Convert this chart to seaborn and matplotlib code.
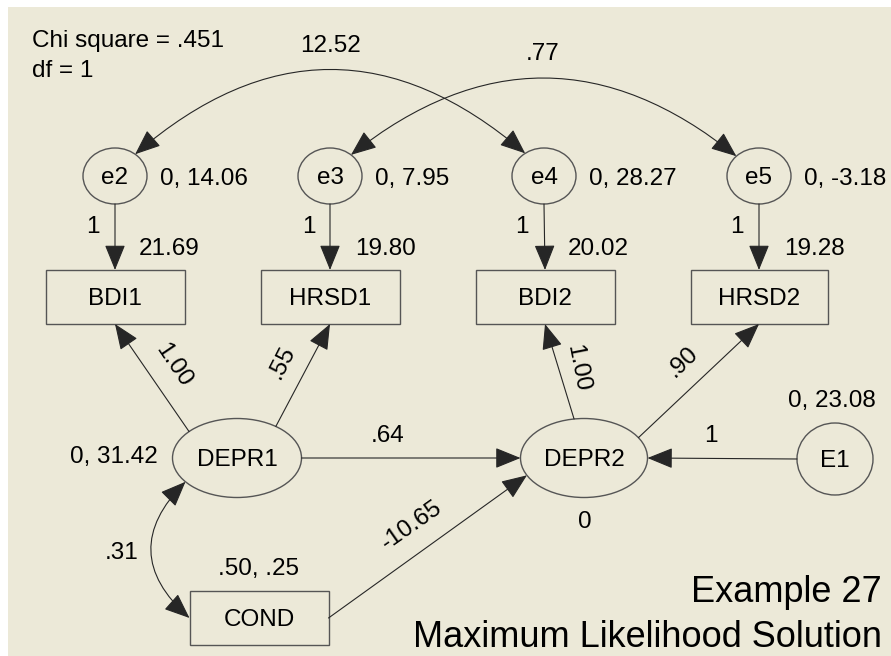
import numpy as np
import matplotlib
matplotlib.use("Agg")
import matplotlib.pyplot as plt
import seaborn as sns
from matplotlib.patches import Ellipse, Rectangle, FancyArrowPatch, ArrowStyle

# ==========================================
# MODEL ESTIMATES (EXAMPLE 27, ML SOLUTION)
# ==========================================

latent = ["e2", "e3", "e4", "e5", "DEPR1", "DEPR2", "E1"]
observed = ["BDI1", "HRSD1", "BDI2", "HRSD2", "COND"]

# regression paths
path_from = ["e2", "e3", "e4", "e5", "DEPR1", "DEPR1", "DEPR1", "DEPR2", "DEPR2", "E1", "COND"]
path_to = ["BDI1", "HRSD1", "BDI2", "HRSD2", "BDI1", "HRSD1", "DEPR2", "BDI2", "HRSD2", "DEPR2", "DEPR2"]
path_est = ["1", "1", "1", "1", "1.00", ".55", ".64", "1.00", ".90", "1", "-10.65"]

# covariances
cov_a = ["e2", "e3", "DEPR1"]
cov_b = ["e4", "e5", "COND"]
cov_est = ["12.52", ".77", ".31"]

# mean, variance of exogenous variables
mv_nodes = ["e2", "e3", "e4", "e5", "DEPR1", "E1", "COND"]
mv_est = ["0, 14.06", "0, 7.95", "0, 28.27", "0, -3.18", "0, 31.42", "0, 23.08", ".50, .25"]

# intercepts of endogenous variables
icpt_nodes = ["BDI1", "HRSD1", "BDI2", "HRSD2", "DEPR2"]
icpt_est = ["21.69", "19.80", "20.02", "19.28", "0"]

chi_square = ".451"
df_val = 1
title_lines = ["Example 27", "Maximum Likelihood Solution"]

# ==========================================
# LAYOUT (pixels: centre x, centre y, width, height)
# ==========================================

layout = {
    "e2": (115, 176, 64, 56),
    "e3": (330, 176, 64, 56),
    "e4": (544, 176, 64, 56),
    "e5": (759, 176, 64, 56),
    "BDI1": (115, 297, 139, 54),
    "HRSD1": (330, 297, 139, 54),
    "BDI2": (545, 297, 139, 54),
    "HRSD2": (759, 297, 137, 54),
    "DEPR1": (237, 458, 129, 79),
    "DEPR2": (584, 458, 127, 79),
    "E1": (835, 459, 76, 72),
    "COND": (259, 618, 139, 54),
}

# where each path leaves / enters its node (angle on the outline)
path_anchor = [(270, 90), (270, 90), (270, 90), (270, 90), (138, 270), (53, 270),
               (0, 180), (99, 270), (31, 270), (180, 0), (0, 206)]
# label placement: x, y, rotation, ha, va
path_lab = [(100, 233, 0, "right", "baseline"), (316, 233, 0, "right", "baseline"),
            (529, 233, 0, "right", "baseline"), (744, 233, 0, "right", "baseline"),
            (173, 365, -56, "center", "center"), (282, 362, 63, "center", "center"),
            (388, 442, 0, "center", "baseline"), (578, 368, -79, "center", "center"),
            (683, 362, 44, "center", "center"), (711, 442, 0, "center", "baseline"),
            (412, 525, 35, "center", "center")]

cov_anchor = [(51, 126), (49, 135), (217, 180)]
cov_rad = [-0.43, -0.40, 0.53]
cov_lab = [(330, 52), (543, 60), (122, 559)]

mv_lab = [(160, 185, "left"), (375, 185, "left"), (589, 185, "left"), (804, 185, "left"),
          (158, 463, "right"), (832, 407, "center"), (259, 575, "center")]
icpt_lab = [(139, 255, "left"), (355, 255, "left"), (568, 255, "left"),
            (784, 255, "left"), (585, 528, "center")]

BG = "#ECE9D8"
LINE = "#262626"
OUTLINE = "#555555"
FS = 17.5

sns.set_theme(style="white")
plt.rcParams["font.family"] = ["Liberation Sans", "DejaVu Sans"]
plt.rcParams["text.color"] = "black"


def anchor(name, ang):
    cx, cy, w, h = layout[name]
    t = np.radians(ang)
    dx, dy = np.cos(t), -np.sin(t)
    if name in latent:
        return cx + w / 2 * dx, cy + h / 2 * dy
    sx = w / 2 / abs(dx) if abs(dx) > 1e-9 else np.inf
    sy = h / 2 / abs(dy) if abs(dy) > 1e-9 else np.inf
    s = min(sx, sy)
    return cx + s * dx, cy + s * dy


fig = plt.figure(figsize=(8.91, 6.56), dpi=100, facecolor="white")
ax = fig.add_axes([8 / 891, 0, 883 / 891, 649 / 656])
ax.set_facecolor(BG)
ax.set_xlim(8, 891)
ax.set_ylim(656, 7)
ax.set_xticks([])
ax.set_yticks([])
sns.despine(ax=ax, left=True, bottom=True)

# nodes
for name, (cx, cy, w, h) in layout.items():
    if name in latent:
        ax.add_patch(Ellipse((cx, cy), w, h, facecolor="none", edgecolor=OUTLINE, lw=1.0))
    else:
        ax.add_patch(Rectangle((cx - w / 2, cy - h / 2), w, h, facecolor="none",
                               edgecolor=OUTLINE, lw=1.0))
    ax.text(cx, cy + 8, name, ha="center", va="baseline", fontsize=FS)

one_head = ArrowStyle("-|>", head_length=1.6, head_width=0.65)
two_head = ArrowStyle("<|-|>", head_length=1.6, head_width=0.65)

# regression paths
for src, dst, est, (a0, a1), (lx, ly, rot, ha, va) in zip(path_from, path_to, path_est,
                                                           path_anchor, path_lab):
    arr = FancyArrowPatch(anchor(src, a0), anchor(dst, a1), arrowstyle=one_head,
                          mutation_scale=10, shrinkA=0, shrinkB=0,
                          color=LINE, lw=0.8)
    ax.add_patch(arr)
    ax.text(lx, ly, est, rotation=rot, rotation_mode="anchor", ha=ha, va=va, fontsize=FS)

# covariances
for a, b, est, (a0, a1), rad, (lx, ly) in zip(cov_a, cov_b, cov_est, cov_anchor,
                                              cov_rad, cov_lab):
    arr = FancyArrowPatch(anchor(a, a0), anchor(b, a1), arrowstyle=two_head,
                          connectionstyle="arc3,rad=%s" % rad,
                          mutation_scale=10, shrinkA=0, shrinkB=0,
                          color=LINE, lw=0.8)
    ax.add_patch(arr)
    ax.text(lx, ly, est, ha="center", va="baseline", fontsize=FS)

# means / variances / intercepts
for est, (lx, ly, ha) in zip(mv_est, mv_lab):
    ax.text(lx, ly, est, ha=ha, va="baseline", fontsize=FS)
for est, (lx, ly, ha) in zip(icpt_est, icpt_lab):
    ax.text(lx, ly, est, ha=ha, va="baseline", fontsize=FS)

# fit info + caption
ax.text(32, 47, "Chi square = %s" % chi_square, ha="left", va="baseline", fontsize=FS)
ax.text(32, 77, "df = %d" % df_val, ha="left", va="baseline", fontsize=FS)
ax.text(882, 602, title_lines[0], ha="right", va="baseline", fontsize=26)
ax.text(882, 647, title_lines[1], ha="right", va="baseline", fontsize=26)

fig.savefig("out.png", dpi=100, facecolor="white")
